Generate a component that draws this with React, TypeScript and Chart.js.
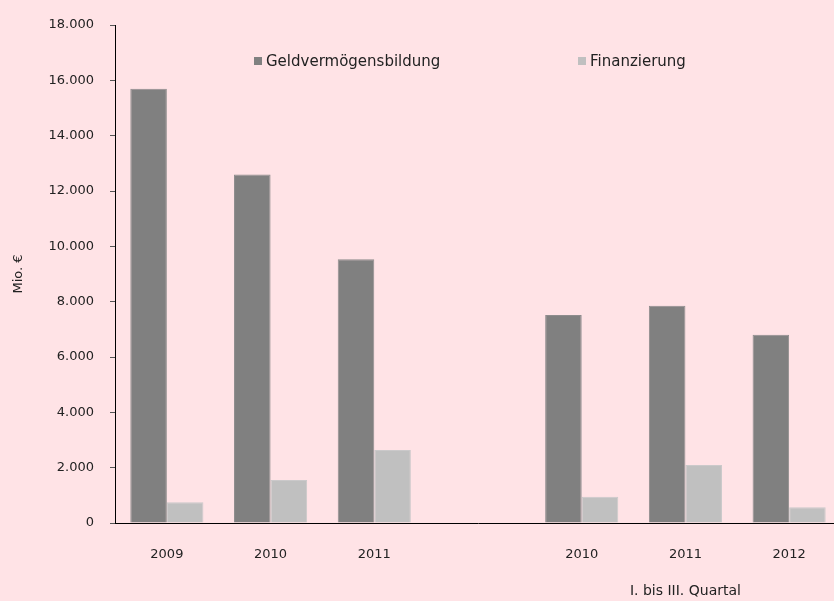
import React, { useEffect, useRef } from "react";
import { Chart, registerables } from "chart.js";

Chart.register(...registerables);

const categories = ["2009", "2010", "2011", "", "2010", "2011", "2012"];
const geldvermoegensbildung = [15700, 12600, 9530, null, 7520, 7850, 6800];
const finanzierung = [750, 1550, 2640, null, 950, 2100, 570];
const seriesNames = ["Geldvermögensbildung", "Finanzierung"];
const yTicks = [0, 2000, 4000, 6000, 8000, 10000, 12000, 14000, 16000, 18000];
const quarterNote = "I. bis III. Quartal";
const yTitle = "Mio. €";

const FONT = "'DejaVu Sans', sans-serif";
const TEXT = "#222222";
const BG = "#FFE3E6";

const overlayPlugin = {
  id: "overlay",
  afterDraw(chart: any) {
    const ctx = chart.ctx;
    const area = chart.chartArea;
    ctx.save();
    ctx.font = `15px ${FONT}`;
    ctx.fillStyle = TEXT;
    ctx.textBaseline = "middle";
    // legend
    const items = [
      { x: area.left + 139, label: seriesNames[0], color: chart.data.datasets[0].backgroundColor },
      { x: area.left + 463, label: seriesNames[1], color: chart.data.datasets[1].backgroundColor },
    ];
    const ly = area.top + 36;
    items.forEach((it) => {
      ctx.fillStyle = it.color;
      ctx.fillRect(it.x, ly - 4, 8, 8);
      ctx.fillStyle = TEXT;
      ctx.textAlign = "left";
      ctx.fillText(it.label, it.x + 12, ly + 1);
    });
    // quarter note
    const xs = chart.scales.x;
    const cx = xs.getPixelForValue(5);
    ctx.font = `14px ${FONT}`;
    ctx.textAlign = "center";
    ctx.fillText(quarterNote, cx, area.bottom + 68);
    ctx.restore();
  },
};

export default function App() {
  const ref = useRef<HTMLCanvasElement | null>(null);
  useEffect(() => {
    if (!ref.current) return;
    const chart = new Chart(ref.current, {
      type: "bar",
      data: {
        labels: categories,
        datasets: [
          {
            label: seriesNames[0],
            data: geldvermoegensbildung as any,
            backgroundColor: "#808080",
            borderColor: "#8e8c8d",
            borderWidth: 1,
            categoryPercentage: 0.705,
            barPercentage: 1,
          },
          {
            label: seriesNames[1],
            data: finanzierung as any,
            backgroundColor: "#C0C0C0",
            borderColor: "#cbc9ca",
            borderWidth: 1,
            categoryPercentage: 0.705,
            barPercentage: 1,
          },
        ],
      },
      options: {
        animation: false,
        responsive: false,
        maintainAspectRatio: false,
        layout: { padding: { top: 25, left: 0, right: 0, bottom: 0 } },
        plugins: {
          legend: { display: false },
          tooltip: { enabled: false },
        },
        scales: {
          x: {
            grid: { display: false, drawTicks: false },
            border: { display: true, color: "#000", width: 1 },
            ticks: { color: TEXT, font: { family: FONT, size: 13 }, padding: 24 },
            afterFit: (s: any) => {
              s.height = 78;
            },
          },
          y: {
            min: 0,
            max: 18000,
            afterBuildTicks: (s: any) => {
              s.ticks = yTicks.map((v) => ({ value: v }));
            },
            grid: { display: true, drawOnChartArea: false, drawTicks: true, tickLength: 5, color: "#555" },
            border: { display: true, color: "#000", width: 1 },
            ticks: {
              color: TEXT,
              font: { family: FONT, size: 13 },
              padding: 16,
              callback: (v: any) => Number(v).toLocaleString("de-DE"),
            },
            title: {
              display: true,
              text: yTitle,
              color: TEXT,
              font: { family: FONT, size: 13 },
              padding: { top: 11, bottom: 0 },
            },
            afterFit: (s: any) => {
              s.width = 115;
            },
          },
        },
      },
      plugins: [overlayPlugin],
    });
    return () => chart.destroy();
  }, []);
  return (
    <div
      style={{
        position: "fixed",
        left: 0,
        top: 0,
        width: 834,
        height: 601,
        overflow: "hidden",
        background: BG,
      }}
    >
      <canvas ref={ref} width={841} height={601} style={{ display: "block", width: 841, height: 601 }} />
    </div>
  );
}
